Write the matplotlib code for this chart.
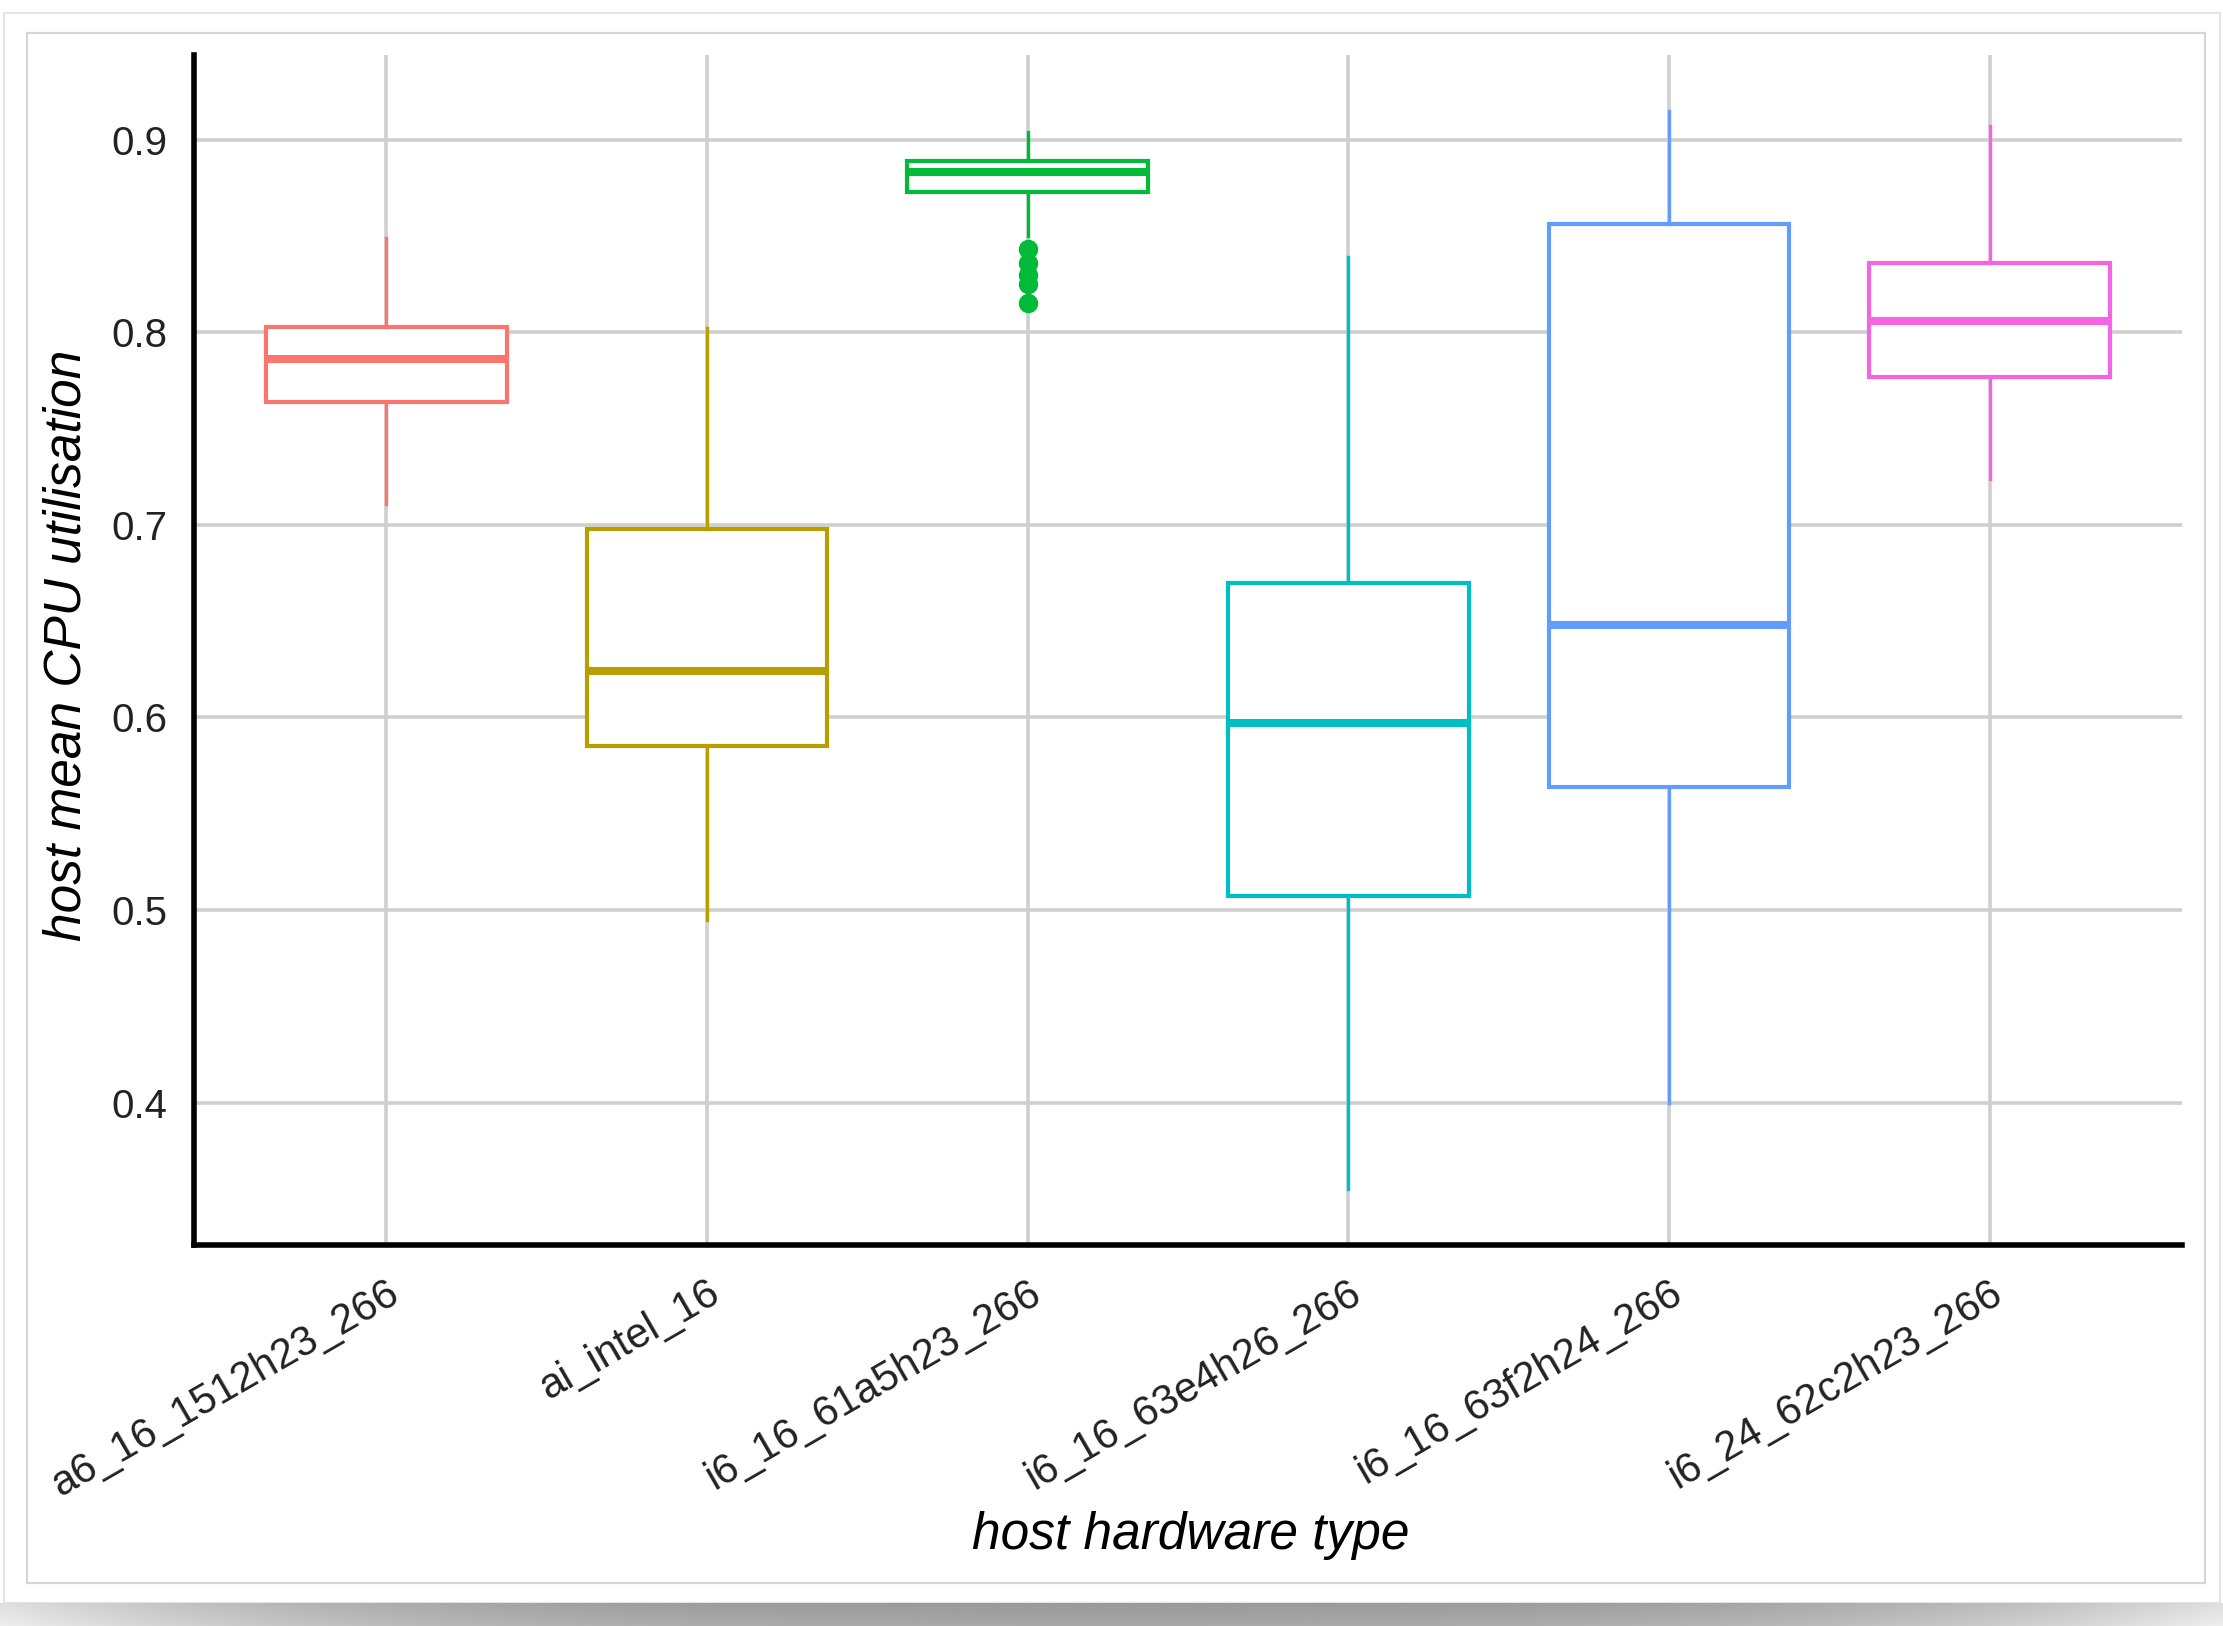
#!/usr/bin/env python3
"""Box plot of host mean CPU utilisation per host hardware type."""

import numpy as np
import matplotlib
matplotlib.use("Agg")
import matplotlib.pyplot as plt
from matplotlib.patches import Rectangle

# ---------------------------------------------------------------------------
# Data
# ---------------------------------------------------------------------------
hw_types = ["a6_16_1512h23_266", "ai_intel_16", "i6_16_61a5h23_266",
            "i6_16_63e4h26_266", "i6_16_63f2h24_266", "i6_24_62c2h23_266"]
whisker_low = [0.711, 0.495, 0.850, 0.355, 0.400, 0.724]
q1 = [0.764, 0.585, 0.873, 0.507, 0.564, 0.777]
median = [0.786, 0.624, 0.883, 0.597, 0.648, 0.806]
q3 = [0.803, 0.698, 0.889, 0.670, 0.856, 0.836]
whisker_high = [0.849, 0.802, 0.904, 0.839, 0.915, 0.907]
outliers = [[], [], [0.843, 0.836, 0.830, 0.825, 0.815], [], [], []]

colors = ["#F8766D", "#B79F00", "#00BA38", "#00BFC4", "#619CFF", "#F564E3"]
y_ticks = [0.4, 0.5, 0.6, 0.7, 0.8, 0.9]

W, H = 2223, 1626
plt.rcParams['font.family'] = ['Liberation Sans', 'DejaVu Sans']

fig = plt.figure(figsize=(W / 100, H / 100), dpi=100)

# card decoration (screenshot look): outer card, inner frame, bottom shadow
fig.patches.append(Rectangle((4 / W, 1 - 1603 / H), 2216 / W, 1590 / H,
                             transform=fig.transFigure, facecolor='white',
                             edgecolor='#e4e4e4', linewidth=1.5, zorder=-10))
fig.patches.append(Rectangle((27 / W, 1 - 1583 / H), 2178 / W, 1550 / H,
                             transform=fig.transFigure, facecolor='white',
                             edgecolor='#d6d6d6', linewidth=1.6, zorder=-9))
sh_ax = fig.add_axes([0, 0, 1, 23 / H], zorder=-5)
xs = np.linspace(-1, 1, 400)
prof = 0.60 + 0.27 * np.abs(xs) ** 3
vert = np.linspace(0.0, 0.06, 20)[:, None]
sh_ax.imshow(prof[None, :] + vert, cmap='gray', vmin=0, vmax=1,
             aspect='auto', extent=[0, 1, 0, 1])
sh_ax.axis('off')

# main plot area
ax = fig.add_axes([194 / W, 1 - 1245 / H, 1988 / W, 1190 / H])
ax.patch.set_alpha(0)

stats = []
for i, name in enumerate(hw_types):
    stats.append({
        'label': name,
        'whislo': whisker_low[i],
        'q1': q1[i],
        'med': median[i],
        'q3': q3[i],
        'whishi': whisker_high[i],
        'fliers': outliers[i],
    })

positions = np.arange(1, len(hw_types) + 1)
bp = ax.bxp(stats, positions=positions, widths=0.75, showcaps=False,
            patch_artist=True, zorder=3)
for i, c in enumerate(colors):
    bp['boxes'][i].set(facecolor='white', edgecolor=c, linewidth=3.0)
    bp['medians'][i].set(color=c, linewidth=5.8, solid_capstyle='butt')
    for w in bp['whiskers'][2 * i:2 * i + 2]:
        w.set(color=c, linewidth=2.4)
    bp['fliers'][i].set(marker='o', markerfacecolor=c, markeredgecolor=c,
                        markersize=13, linestyle='none')

ax.set_xlim(0.4, 6.6)
ax.set_ylim(0.326, 0.944)
ax.set_yticks(y_ticks)
ax.set_yticklabels([f"{v:.1f}" for v in y_ticks])
ax.set_xticks(positions)
ax.set_xticklabels(hw_types, rotation=30, ha='right', va='top',
                   rotation_mode='anchor')

ax.grid(True, color='#cfcfcf', linewidth=2.6, zorder=0)
ax.set_axisbelow(True)
ax.tick_params(axis='both', length=0, colors='#222222')
ax.tick_params(axis='y', pad=19, labelsize=29)
ax.tick_params(axis='x', pad=20, labelsize=30)

for side in ['top', 'right']:
    ax.spines[side].set_visible(False)
for side in ['left', 'bottom']:
    ax.spines[side].set_linewidth(4.0)
    ax.spines[side].set_color('black')

ax.set_xlabel('host hardware type', fontsize=37, style='italic')
ax.set_ylabel('host mean CPU utilisation', fontsize=37, style='italic')
ax.xaxis.set_label_coords(0.5015, -0.244)
ax.xaxis.label.set_va('center')
ax.yaxis.set_label_coords(-0.0639, 0.504)
ax.yaxis.label.set_va('center')

fig.savefig('out.png', dpi=100, facecolor='white')
print("Saved: out.png")
